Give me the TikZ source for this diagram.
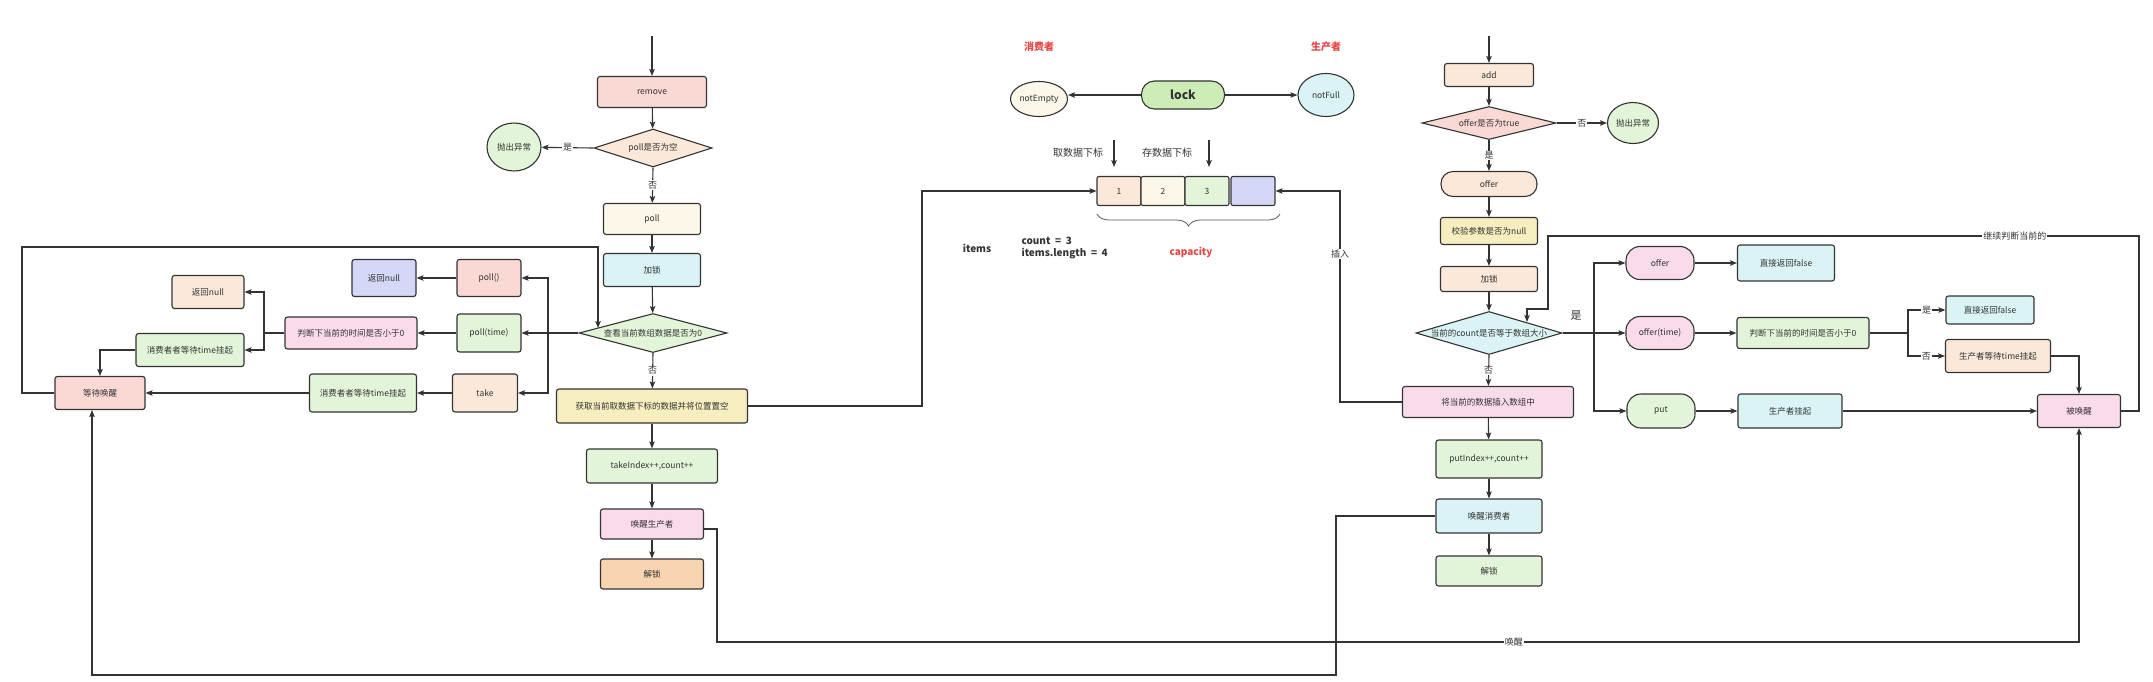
\documentclass[tikz,border=0pt]{standalone}
\usepackage{fontspec}
\setmainfont{Noto Sans CJK SC}
\usetikzlibrary{shapes.geometric,arrows.meta,decorations.pathreplacing}
\definecolor{lnc}{HTML}{333333}
\definecolor{txt}{HTML}{333333}
\definecolor{pkA}{HTML}{FAD9D5}
\definecolor{pk2}{HTML}{F9DBEC}
\definecolor{pch}{HTML}{FBE8D8}
\definecolor{crm}{HTML}{FCF7E8}
\definecolor{grn}{HTML}{E3F5D9}
\definecolor{cyn}{HTML}{DAF3F4}
\definecolor{ylw}{HTML}{F7EEC0}
\definecolor{org}{HTML}{F8D4B0}
\definecolor{lav}{HTML}{D4D8F6}
\definecolor{lkg}{HTML}{CDEDB6}
\definecolor{redt}{HTML}{E84545}
\begin{document}
\begin{tikzpicture}[x=1pt,y=-1pt, font=\fontsize{8.5}{10}\selectfont, text=txt,
  box/.style={draw=lnc, line width=1.1pt, rounded corners=2.5pt, inner sep=1pt},
  pill/.style={draw=lnc, line width=1.1pt, rounded corners=12pt, inner sep=1pt},
  sz/.style 2 args={minimum width=#1pt, minimum height=#2pt},
  dia/.style={draw=lnc, line width=1.1pt, diamond, inner sep=0pt},
  ell/.style={draw=lnc, line width=1.1pt, ellipse, inner sep=0pt},
  cell/.style={draw=lnc, line width=1.1pt, rounded corners=2pt, minimum width=44pt, minimum height=29pt, inner sep=0pt},
  arr/.style={draw=lnc, line width=1.1pt, -{Stealth[length=7pt,width=5.5pt,inset=1.5pt]}},
  lnk/.style={draw=lnc, line width=1.1pt},
  lab/.style={fill=white, inner sep=1pt, font=\fontsize{9}{10}\selectfont},
  big/.style={font=\fontsize{10}{12}\selectfont},
  bigb/.style={font=\bfseries\fontsize{10}{12}\selectfont}
]
\useasboundingbox (0,0) rectangle (2153,681);
\fill[white] (0,0) rectangle (2153,681);

% ---------------- left: consumer ----------------
\coordinate (sL) at (652,36);
\node[box, fill=pkA, sz={109}{31}] (remove) at (652,92) {remove};
\node[dia, fill=pch, sz={118}{38}, label=center:{poll是否为空}] (d1) at (653,148) {};
\node[ell, fill=grn, sz={54}{48}, label=center:{抛出异常}] (exc1) at (514,147) {};
\node[box, fill=crm, sz={97}{31}] (poll) at (652,219) {poll};
\node[box, fill=cyn, sz={97}{33}] (lk1) at (652,270) {加锁};
\node[dia, fill=grn, sz={148}{39}, label=center:{查看当前数组数据是否为0}] (d2) at (653,333) {};
\node[box, fill=ylw, sz={191}{34}] (get) at (652,406) {获取当前取数据下标的数据并将位置置空};
\node[box, fill=grn, sz={131}{34}] (tki) at (652,466) {takeIndex++,count++};
\node[box, fill=pk2, sz={103}{30}] (wkp) at (652,524) {唤醒生产者};
\node[box, fill=org, sz={103}{30}] (ul1) at (652,574) {解锁};
\node[box, fill=pkA, sz={64}{37}] (pollA) at (489,278) {poll()};
\node[box, fill=lav, sz={64}{37}] (rnb) at (384,278) {返回null};
\node[box, fill=grn, sz={64}{38}] (pollT) at (489,333) {poll(time)};
\node[box, fill=pk2, sz={132}{32}] (jl) at (351,333) {判断下当前的时间是否小于0};
\node[box, fill=pch, sz={72}{33}] (rno) at (208,292) {返回null};
\node[box, fill=grn, sz={108}{33}] (wt1) at (190,350) {消费者者等待time挂起};
\node[box, fill=pch, sz={65}{38}] (take) at (485,393) {take};
\node[box, fill=grn, sz={107}{38}] (wt2) at (363,393) {消费者者等待time挂起};
\node[box, fill=pkA, sz={90}{33}] (ww) at (100,393) {等待唤醒};

\draw[arr] (sL) -- (remove);
\draw[arr] (remove) -- (d1);
\draw[arr] (d1.west) -- node[lab]{是} (exc1);
\draw[arr] (d1.south) -- node[lab]{否} (poll);
\draw[arr] (poll) -- (lk1);
\draw[arr] (lk1) -- (d2);
\draw[arr] (d2.south) -- node[lab]{否} (get);
\draw[arr] (get) -- (tki);
\draw[arr] (tki) -- (wkp);
\draw[arr] (wkp) -- (ul1);
\coordinate (j1) at (548,333);
\draw[lnk] (d2.west) -- (j1);
\draw[arr] (j1) |- (pollA.east);
\draw[arr] (j1) -- (pollT.east);
\draw[arr] (j1) |- (take.east);
\draw[arr] (pollA) -- (rnb);
\draw[arr] (pollT) -- (jl);
\coordinate (j2) at (264,333);
\draw[lnk] (jl.west) -- (j2);
\draw[arr] (j2) |- (rno.east);
\draw[arr] (j2) |- (wt1.east);
\draw[arr] (wt1.west) -| (ww.north);
\draw[arr] (take) -- (wt2);
\draw[arr] (wt2) -- (ww);
\coordinate (lp1) at (22,247);
\coordinate (lp2) at (598,328);
\draw[arr] (ww.west) -| (lp1) -| (lp2);

% ---------------- middle ----------------
\node[bigb, text=redt] (cons) at (1039,47) {消费者};
\node[bigb, text=redt] (prod) at (1326,47) {生产者};
\node[ell, fill=crm, sz={57}{35}, label=center:{notEmpty}] (ne) at (1039,99) {};
\node[pill, rounded corners=13pt, fill=lkg, sz={83}{28}, font=\bfseries\fontsize{12}{14}\selectfont] (lock) at (1183,95) {lock};
\node[ell, fill=cyn, sz={56}{43}, label=center:{notFull}] (nf) at (1326,95) {};
\draw[arr] (lock.west) -- (lock.west -| ne.east);
\draw[arr] (lock.east) -- (nf.west);
\node[big] (tq) at (1078,153) {取数据下标};
\node[big] (cq) at (1167,153) {存数据下标};
\coordinate (ta1) at (1114,140); \coordinate (ta2) at (1114,167);
\coordinate (sa1) at (1209,140); \coordinate (sa2) at (1209,167);
\draw[arr] (ta1) -- (ta2);
\draw[arr] (sa1) -- (sa2);
\node[cell, fill=pch] (c1) at (1119,191) {1};
\node[cell, fill=crm] (c2) at (1163,191) {2};
\node[cell, fill=grn] (c3) at (1207,191) {3};
\node[cell, fill=lav] (c4) at (1253,191) {};
\draw[draw=lnc!80, line width=0.8pt, decorate, decoration={brace, amplitude=12pt, mirror}] (1097,214) -- (1280,214);
\node[bigb] (items) at (977,248) {items};
\node[bigb, anchor=west, align=left] (cnt) at (1018,248) {count\ \ =\ \ 3\\items.length\ \ =\ \ 4};
\node[bigb, text=redt] (cap) at (1191,252) {capacity};
\coordinate (g1) at (922,191);
\draw[arr] (get.east) -| (g1) -- (c1.west);

% ---------------- right: producer ----------------
\coordinate (sR) at (1489,36);
\node[box, fill=pch, sz={89}{23}] (add) at (1489,75) {add};
\node[dia, fill=pkA, sz={134}{33}, label=center:{offer是否为true}] (d3) at (1489,123) {};
\node[ell, fill=grn, sz={51}{41}, label=center:{抛出异常}] (exc2) at (1633,123) {};
\node[pill, fill=pch, sz={96}{25}] (offA) at (1489,184) {offer};
\node[box, fill=ylw, sz={97}{27}] (chk) at (1489,231) {校验参数是否为null};
\node[box, fill=pch, sz={97}{25}] (lk2) at (1489,279) {加锁};
\node[dia, fill=cyn, sz={146}{43}, label=center:{当前的count是否等于数组大小}] (d4) at (1489,333) {};
\node[box, fill=pk2, sz={171}{31}] (ins) at (1488,402) {将当前的数据插入数组中};
\node[box, fill=grn, sz={106}{38}] (putI) at (1489,459) {putIndex++,count++};
\node[box, fill=cyn, sz={106}{34}] (wkc) at (1489,516) {唤醒消费者};
\node[box, fill=grn, sz={106}{30}] (ul2) at (1489,571) {解锁};
\node[font=\fontsize{11}{12}\selectfont] (yes) at (1576,316) {是};
\node[pill, rounded corners=14pt, fill=pk2, sz={68}{33}] (offB) at (1660,263) {offer};
\node[pill, rounded corners=14pt, fill=pk2, sz={68}{33}] (offT) at (1660,333) {offer(time)};
\node[pill, rounded corners=14pt, fill=grn, sz={68}{34}] (put) at (1661,411) {put};
\node[box, fill=cyn, sz={97}{36}] (ret1) at (1786,263) {直接返回false};
\node[box, fill=grn, sz={132}{31}] (jr) at (1803,333) {判断下当前的时间是否小于0};
\node[box, fill=cyn, sz={88}{28}] (ret2) at (1990,310) {直接返回false};
\node[box, fill=pch, sz={105}{33}] (wp) at (1998,356) {生产者等待time挂起};
\node[box, fill=cyn, sz={104}{34}] (hang) at (1790,411) {生产者挂起};
\node[box, fill=pk2, sz={83}{33}] (woken) at (2079,411) {被唤醒};

\draw[arr] (sR) -- (add);
\draw[arr] (add) -- (d3);
\draw[arr] (d3.east) -- node[lab]{否} (exc2);
\draw[arr] (d3.south) -- node[lab]{是} (offA);
\draw[arr] (offA) -- (chk);
\draw[arr] (chk) -- (lk2);
\draw[arr] (lk2) -- (d4);
\draw[arr] (d4.south) -- node[lab]{否} (ins);
\draw[arr] (ins) -- (putI);
\draw[arr] (putI) -- (wkc);
\draw[arr] (wkc) -- (ul2);
\coordinate (j3) at (1594,333);
\draw[lnk] (d4.east) -- (j3);
\draw[arr] (j3) |- (offB.west);
\draw[arr] (j3) -- (offT.west);
\draw[arr] (j3) |- (put.west);
\draw[arr] (offB) -- (ret1);
\draw[arr] (offT) -- (jr);
\coordinate (j4) at (1908,333);
\draw[lnk] (jr.east) -- (j4);
\draw[arr] (j4) |- node[lab, pos=0.75]{是} (ret2.west);
\draw[arr] (j4) |- node[lab, pos=0.75]{否} (wp.west);
\draw[arr] (wp.east) -| (woken.north);
\draw[arr] (put) -- (hang);
\draw[arr] (hang) -- (woken);
\coordinate (r1) at (2139,236);
\coordinate (r1t) at (1548,236);
\coordinate (r2) at (1527,309);
\coordinate (r3) at (1527,322);
\draw[arr] (woken.east) -| (r1) -- node[lab, pos=0.21]{继续判断当前的} (r1t) |- (r2) -- (r3);

\coordinate (i1) at (1340,191);
\draw[arr] (ins.west) -| node[lab, pos=0.85]{插入} (i1) -- (c4.east);

% ---------------- wake connectors ----------------
\coordinate (w1) at (717,642);
\coordinate (w2) at (2079,642);
\draw[arr] ([yshift=-5pt]wkp.east) -| (w1) -- node[lab, pos=0.585]{唤醒} (w2) -- (woken.south);
\coordinate (b1) at (1336,675);
\coordinate (b2) at (92,675);
\draw[arr] (wkc.west) -| (b1) -- (b2) -- (b2 |- ww.south);
\end{tikzpicture}
\end{document}
